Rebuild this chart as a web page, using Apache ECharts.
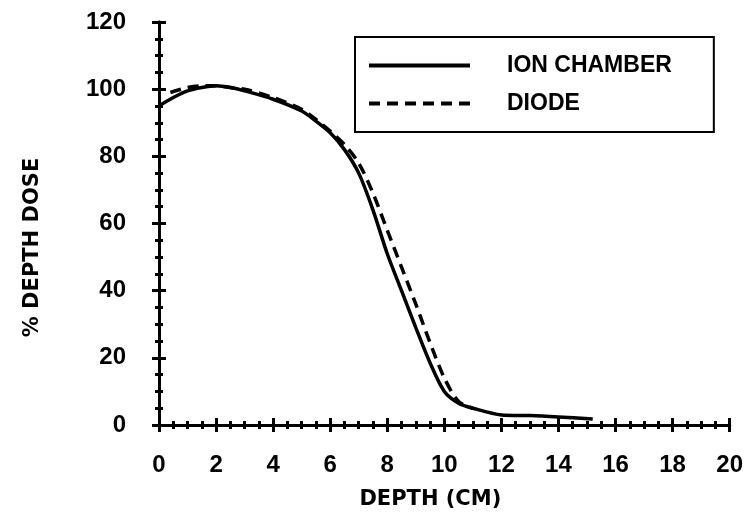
<!DOCTYPE html>
<html><head><meta charset="utf-8">
<script src="https://cdn.jsdelivr.net/npm/echarts@6/dist/echarts.min.js"></script>
<style>html,body{margin:0;padding:0;background:#fff}#c{width:746px;height:519px}</style>
</head><body><div id="c"></div>
<script>
const ionDepth = [0, 0.5, 1, 1.5, 2, 2.5, 3, 4, 5, 5.5, 6, 6.5, 7, 7.5, 8, 8.5, 9, 9.5, 10, 10.5, 11, 12, 13, 14, 15.2];
const ionDose  = [95, 97.5, 99.5, 100.5, 101, 100.5, 99.5, 97, 93.5, 90.5, 87, 82, 75, 64, 51, 40, 29, 18.5, 10, 6.5, 5, 3, 2.8, 2.4, 1.8];
const diodeDepth = [0.4, 1, 1.5, 2, 2.5, 3, 4, 5, 5.5, 6, 6.5, 7, 7.5, 8, 8.5, 9, 9.5, 10, 10.5, 11];
const diodeDose  = [99, 100.5, 101, 101, 100.5, 100, 97.5, 94, 91, 87.5, 83.5, 78, 69, 58, 47, 36, 24.5, 14, 7, 5];
const xTicks = [0, 2, 4, 6, 8, 10, 12, 14, 16, 18, 20];
const yTicks = [0, 20, 40, 60, 80, 100, 120];

const pairs = (xs, ys) => xs.map((x, i) => [x, ys[i]]);
const FONT = 'Liberation Sans';
const axisCommon = {
  axisLine: {lineStyle: {color: '#000', width: 3}},
  axisTick: {show: true, inside: false, length: 7, lineStyle: {color: '#000', width: 3}},
  minorTick: {show: true, splitNumber: 4, length: 4, lineStyle: {color: '#000', width: 3}},
  splitLine: {show: false}
};
const chart = echarts.init(document.getElementById('c'));
chart.setOption({
  animation: false,
  backgroundColor: '#fff',
  grid: {left: 159, right: 12, top: 22, bottom: 94},
  legend: {
    orient: 'vertical', left: 355, top: 37,
    borderColor: '#000', borderWidth: 2,
    padding: [17, 42, 17, 12],
    itemWidth: 101, itemHeight: 20, itemGap: 15,
    itemStyle: {opacity: 0},
    lineStyle: {width: 4},
    textStyle: {fontFamily: FONT, fontWeight: 'bold', fontSize: 23, lineHeight: 20, color: '#000', padding: [0, 0, 0, 32]},
    data: ['ION CHAMBER', 'DIODE']
  },
  xAxis: [
    Object.assign({type: 'value', min: 0, max: 20, interval: 2, position: 'bottom',
      name: 'DEPTH (CM)', nameLocation: 'middle', nameGap: 64,
      nameTextStyle: {fontFamily: 'DejaVu Sans', fontWeight: 'bold', fontSize: 21, color: '#000', padding: [0, 28, 0, 0]},
      axisLabel: {fontFamily: FONT, fontWeight: 'bold', fontSize: 24, color: '#000', margin: 28,
        formatter: v => xTicks.includes(v) ? String(v) : ''}}, axisCommon),
    Object.assign({type: 'value', min: 0, max: 20, interval: 2, position: 'top', axisLabel: {show: false}}, axisCommon)
  ],
  yAxis: [
    Object.assign({type: 'value', min: 0, max: 120, interval: 20, position: 'left',
      name: '% DEPTH DOSE', nameLocation: 'middle', nameGap: 116, nameRotate: 90,
      nameTextStyle: {fontFamily: 'DejaVu Sans', fontWeight: 'bold', fontSize: 21, color: '#000', padding: [0, 48, 0, 0]},
      axisLabel: {fontFamily: FONT, fontWeight: 'bold', fontSize: 24, color: '#000', margin: 33,
        formatter: v => yTicks.includes(v) ? String(v) : ''}}, axisCommon),
    Object.assign({type: 'value', min: 0, max: 120, interval: 20, position: 'right', axisLabel: {show: false}}, axisCommon)
  ],
  series: [
    {name: 'ION CHAMBER', type: 'line', data: pairs(ionDepth, ionDose), smooth: 0.3,
      showSymbol: false, symbol: 'none', lineStyle: {color: '#000', width: 3.5}, itemStyle: {color: '#000', opacity: 0}},
    {name: 'DIODE', type: 'line', data: pairs(diodeDepth, diodeDose), smooth: 0.3,
      showSymbol: false, symbol: 'none', lineStyle: {color: '#000', width: 3.5, type: [11, 7]}, itemStyle: {color: '#000', opacity: 0}}
  ]
});
</script></body></html>
